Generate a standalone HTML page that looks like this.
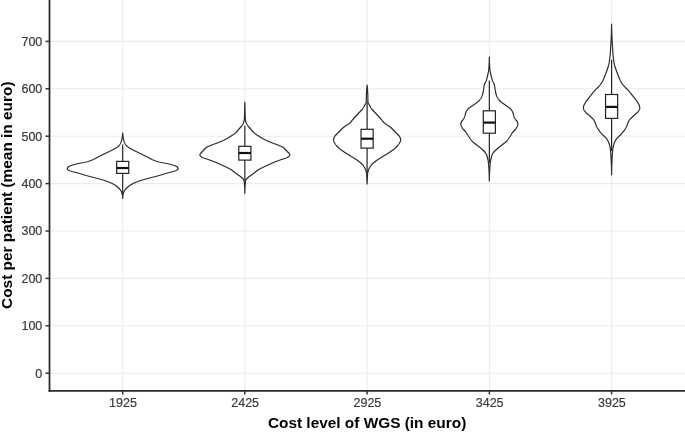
<!DOCTYPE html>
<html><head><meta charset="utf-8"><title>Cost per patient by cost level of WGS</title>
<style>
html,body{margin:0;padding:0;background:#fff;}
body{width:685px;height:432px;overflow:hidden;}
svg{display:block;font-family:"Liberation Sans",Arial,Helvetica,sans-serif;}
</style></head><body>
<svg width="685" height="432" viewBox="0 0 685 432">
<rect width="685" height="432" fill="#fff"/>
<line x1="49.5" x2="685" y1="373.20" y2="373.20" stroke="#ebebeb" stroke-width="1.1"/>
<line x1="49.5" x2="685" y1="325.80" y2="325.80" stroke="#ebebeb" stroke-width="1.1"/>
<line x1="49.5" x2="685" y1="278.40" y2="278.40" stroke="#ebebeb" stroke-width="1.1"/>
<line x1="49.5" x2="685" y1="231.00" y2="231.00" stroke="#ebebeb" stroke-width="1.1"/>
<line x1="49.5" x2="685" y1="183.60" y2="183.60" stroke="#ebebeb" stroke-width="1.1"/>
<line x1="49.5" x2="685" y1="136.20" y2="136.20" stroke="#ebebeb" stroke-width="1.1"/>
<line x1="49.5" x2="685" y1="88.80" y2="88.80" stroke="#ebebeb" stroke-width="1.1"/>
<line x1="49.5" x2="685" y1="41.40" y2="41.40" stroke="#ebebeb" stroke-width="1.1"/>
<line x1="122.7" x2="122.7" y1="0" y2="390.8" stroke="#ebebeb" stroke-width="1.1"/>
<line x1="244.85" x2="244.85" y1="0" y2="390.8" stroke="#ebebeb" stroke-width="1.1"/>
<line x1="367.1" x2="367.1" y1="0" y2="390.8" stroke="#ebebeb" stroke-width="1.1"/>
<line x1="489.35" x2="489.35" y1="0" y2="390.8" stroke="#ebebeb" stroke-width="1.1"/>
<line x1="611.6" x2="611.6" y1="0" y2="390.8" stroke="#ebebeb" stroke-width="1.1"/>
<path d="M122.70,133.00 L122.74,133.50 L122.78,134.00 L122.83,134.50 L122.88,135.00 L122.94,135.50 L123.00,136.00 L123.06,136.50 L123.13,137.00 L123.21,137.50 L123.30,138.00 L123.39,138.50 L123.49,139.00 L123.59,139.50 L123.71,140.00 L123.84,140.50 L123.97,141.00 L124.13,141.50 L124.30,142.00 L124.50,142.50 L124.72,143.00 L124.98,143.50 L125.27,144.00 L125.59,144.50 L125.95,145.00 L126.35,145.50 L126.79,146.00 L127.35,146.50 L128.02,147.00 L128.78,147.50 L129.60,148.00 L130.45,148.50 L131.30,149.00 L132.17,149.50 L133.11,150.00 L134.09,150.50 L135.10,151.00 L136.13,151.50 L137.17,152.00 L138.19,152.50 L139.20,153.00 L140.21,153.50 L141.22,154.00 L142.24,154.50 L143.26,155.00 L144.27,155.50 L145.29,156.00 L146.30,156.50 L147.28,157.00 L148.22,157.50 L149.15,158.00 L150.09,158.50 L151.07,159.00 L152.10,159.50 L153.22,160.00 L154.44,160.50 L155.74,161.00 L157.21,161.50 L158.92,162.00 L161.21,162.50 L164.12,163.00 L166.80,163.50 L169.01,164.00 L171.04,164.50 L172.80,165.00 L174.25,165.50 L175.57,166.00 L176.60,166.50 L177.20,167.00 L177.65,167.50 L177.98,168.00 L178.10,168.50 L177.94,169.00 L177.53,169.50 L177.00,170.00 L176.15,170.50 L174.94,171.00 L173.37,171.50 L171.49,172.00 L169.47,172.50 L167.52,173.00 L165.77,173.50 L164.12,174.00 L162.51,174.50 L160.90,175.00 L159.24,175.50 L157.50,176.00 L155.61,176.50 L153.61,177.00 L151.58,177.50 L149.60,178.00 L147.74,178.50 L145.95,179.00 L144.18,179.50 L142.48,180.00 L140.87,180.50 L139.36,181.00 L137.98,181.50 L136.66,182.00 L135.40,182.50 L134.23,183.00 L133.16,183.50 L132.20,184.00 L131.33,184.50 L130.52,185.00 L129.76,185.50 L129.06,186.00 L128.42,186.50 L127.82,187.00 L127.27,187.50 L126.74,188.00 L126.23,188.50 L125.75,189.00 L125.30,189.50 L124.91,190.00 L124.57,190.50 L124.30,191.00 L124.07,191.50 L123.86,192.00 L123.67,192.50 L123.51,193.00 L123.36,193.50 L123.23,194.00 L123.13,194.50 L123.05,195.00 L122.98,195.50 L122.91,196.00 L122.84,196.50 L122.79,197.00 L122.74,197.50 L122.71,198.00 L122.70,198.50 L122.70,198.60 L122.70,198.60 L122.70,198.50 L122.69,198.00 L122.66,197.50 L122.61,197.00 L122.56,196.50 L122.49,196.00 L122.42,195.50 L122.35,195.00 L122.27,194.50 L122.17,194.00 L122.04,193.50 L121.89,193.00 L121.73,192.50 L121.54,192.00 L121.33,191.50 L121.10,191.00 L120.83,190.50 L120.49,190.00 L120.10,189.50 L119.65,189.00 L119.17,188.50 L118.66,188.00 L118.13,187.50 L117.58,187.00 L116.98,186.50 L116.34,186.00 L115.64,185.50 L114.88,185.00 L114.07,184.50 L113.20,184.00 L112.24,183.50 L111.17,183.00 L110.00,182.50 L108.74,182.00 L107.42,181.50 L106.04,181.00 L104.53,180.50 L102.92,180.00 L101.22,179.50 L99.45,179.00 L97.66,178.50 L95.80,178.00 L93.82,177.50 L91.79,177.00 L89.79,176.50 L87.90,176.00 L86.16,175.50 L84.50,175.00 L82.89,174.50 L81.28,174.00 L79.63,173.50 L77.88,173.00 L75.93,172.50 L73.91,172.00 L72.03,171.50 L70.46,171.00 L69.25,170.50 L68.40,170.00 L67.87,169.50 L67.46,169.00 L67.30,168.50 L67.42,168.00 L67.75,167.50 L68.20,167.00 L68.80,166.50 L69.83,166.00 L71.15,165.50 L72.60,165.00 L74.36,164.50 L76.39,164.00 L78.60,163.50 L81.28,163.00 L84.19,162.50 L86.48,162.00 L88.19,161.50 L89.66,161.00 L90.96,160.50 L92.18,160.00 L93.30,159.50 L94.33,159.00 L95.31,158.50 L96.25,158.00 L97.18,157.50 L98.12,157.00 L99.10,156.50 L100.11,156.00 L101.13,155.50 L102.14,155.00 L103.16,154.50 L104.18,154.00 L105.19,153.50 L106.20,153.00 L107.21,152.50 L108.23,152.00 L109.27,151.50 L110.30,151.00 L111.31,150.50 L112.29,150.00 L113.23,149.50 L114.10,149.00 L114.95,148.50 L115.80,148.00 L116.62,147.50 L117.38,147.00 L118.05,146.50 L118.61,146.00 L119.05,145.50 L119.45,145.00 L119.81,144.50 L120.13,144.00 L120.42,143.50 L120.68,143.00 L120.90,142.50 L121.10,142.00 L121.27,141.50 L121.43,141.00 L121.56,140.50 L121.69,140.00 L121.81,139.50 L121.91,139.00 L122.01,138.50 L122.10,138.00 L122.19,137.50 L122.27,137.00 L122.34,136.50 L122.40,136.00 L122.46,135.50 L122.52,135.00 L122.57,134.50 L122.62,134.00 L122.66,133.50 L122.70,133.00Z" fill="#fff" stroke="#2b2b2b" stroke-width="1.2" stroke-linejoin="round"/>
<path d="M244.85,102.00 L244.86,102.50 L244.87,103.00 L244.88,103.50 L244.89,104.00 L244.90,104.50 L244.91,105.00 L244.93,105.50 L244.94,106.00 L244.95,106.50 L244.96,107.00 L244.98,107.50 L244.99,108.00 L245.00,108.50 L245.02,109.00 L245.03,109.50 L245.04,110.00 L245.06,110.50 L245.07,111.00 L245.09,111.50 L245.10,112.00 L245.11,112.50 L245.13,113.00 L245.14,113.50 L245.15,114.00 L245.16,114.50 L245.17,115.00 L245.19,115.50 L245.20,116.00 L245.22,116.50 L245.24,117.00 L245.25,117.50 L245.28,118.00 L245.30,118.50 L245.33,119.00 L245.37,119.50 L245.43,120.00 L245.52,120.50 L245.63,121.00 L245.77,121.50 L245.92,122.00 L246.08,122.50 L246.25,123.00 L246.45,123.50 L246.71,124.00 L247.00,124.50 L247.32,125.00 L247.65,125.50 L248.02,126.00 L248.43,126.50 L248.88,127.00 L249.34,127.50 L249.81,128.00 L250.27,128.50 L250.71,129.00 L251.13,129.50 L251.53,130.00 L251.94,130.50 L252.35,131.00 L252.78,131.50 L253.24,132.00 L253.73,132.50 L254.26,133.00 L254.86,133.50 L255.52,134.00 L256.24,134.50 L256.98,135.00 L257.76,135.50 L258.54,136.00 L259.32,136.50 L260.12,137.00 L260.93,137.50 L261.77,138.00 L262.64,138.50 L263.54,139.00 L264.47,139.50 L265.45,140.00 L266.49,140.50 L267.60,141.00 L268.77,141.50 L269.97,142.00 L271.20,142.50 L272.46,143.00 L273.80,143.50 L275.20,144.00 L276.61,144.50 L277.96,145.00 L279.22,145.50 L280.38,146.00 L281.50,146.50 L282.50,147.00 L283.29,147.50 L283.93,148.00 L284.50,148.50 L285.01,149.00 L285.48,149.50 L285.92,150.00 L286.35,150.50 L286.78,151.00 L287.23,151.50 L287.73,152.00 L288.25,152.50 L288.76,153.00 L289.21,153.50 L289.56,154.00 L289.79,154.50 L289.84,155.00 L289.66,155.50 L289.28,156.00 L288.74,156.50 L288.11,157.00 L287.35,157.50 L286.16,158.00 L284.66,158.50 L283.05,159.00 L281.53,159.50 L280.15,160.00 L278.75,160.50 L277.37,161.00 L276.02,161.50 L274.75,162.00 L273.54,162.50 L272.37,163.00 L271.24,163.50 L270.13,164.00 L269.04,164.50 L267.98,165.00 L266.92,165.50 L265.87,166.00 L264.82,166.50 L263.75,167.00 L262.68,167.50 L261.64,168.00 L260.64,168.50 L259.70,169.00 L258.85,169.50 L258.07,170.00 L257.35,170.50 L256.68,171.00 L256.03,171.50 L255.40,172.00 L254.78,172.50 L254.16,173.00 L253.51,173.50 L252.84,174.00 L252.14,174.50 L251.42,175.00 L250.70,175.50 L249.99,176.00 L249.31,176.50 L248.66,177.00 L248.07,177.50 L247.55,178.00 L247.03,178.50 L246.53,179.00 L246.10,179.50 L245.82,180.00 L245.68,180.50 L245.58,181.00 L245.50,181.50 L245.43,182.00 L245.37,182.50 L245.33,183.00 L245.29,183.50 L245.25,184.00 L245.22,184.50 L245.18,185.00 L245.15,185.50 L245.12,186.00 L245.09,186.50 L245.06,187.00 L245.03,187.50 L245.00,188.00 L244.98,188.50 L244.95,189.00 L244.93,189.50 L244.91,190.00 L244.90,190.50 L244.88,191.00 L244.87,191.50 L244.86,192.00 L244.85,192.50 L244.85,193.00 L244.85,193.30 L244.85,193.30 L244.85,193.00 L244.85,192.50 L244.84,192.00 L244.83,191.50 L244.82,191.00 L244.80,190.50 L244.79,190.00 L244.77,189.50 L244.75,189.00 L244.72,188.50 L244.70,188.00 L244.67,187.50 L244.64,187.00 L244.61,186.50 L244.58,186.00 L244.55,185.50 L244.52,185.00 L244.48,184.50 L244.45,184.00 L244.41,183.50 L244.37,183.00 L244.33,182.50 L244.27,182.00 L244.20,181.50 L244.12,181.00 L244.02,180.50 L243.88,180.00 L243.60,179.50 L243.17,179.00 L242.67,178.50 L242.15,178.00 L241.63,177.50 L241.04,177.00 L240.39,176.50 L239.71,176.00 L239.00,175.50 L238.28,175.00 L237.56,174.50 L236.86,174.00 L236.19,173.50 L235.54,173.00 L234.92,172.50 L234.30,172.00 L233.67,171.50 L233.02,171.00 L232.35,170.50 L231.63,170.00 L230.85,169.50 L230.00,169.00 L229.06,168.50 L228.06,168.00 L227.02,167.50 L225.95,167.00 L224.88,166.50 L223.83,166.00 L222.78,165.50 L221.72,165.00 L220.66,164.50 L219.57,164.00 L218.46,163.50 L217.33,163.00 L216.16,162.50 L214.95,162.00 L213.68,161.50 L212.33,161.00 L210.95,160.50 L209.55,160.00 L208.17,159.50 L206.65,159.00 L205.04,158.50 L203.54,158.00 L202.35,157.50 L201.59,157.00 L200.96,156.50 L200.42,156.00 L200.04,155.50 L199.86,155.00 L199.91,154.50 L200.14,154.00 L200.49,153.50 L200.94,153.00 L201.45,152.50 L201.97,152.00 L202.47,151.50 L202.92,151.00 L203.35,150.50 L203.78,150.00 L204.22,149.50 L204.69,149.00 L205.20,148.50 L205.77,148.00 L206.41,147.50 L207.20,147.00 L208.20,146.50 L209.32,146.00 L210.48,145.50 L211.74,145.00 L213.09,144.50 L214.50,144.00 L215.90,143.50 L217.24,143.00 L218.50,142.50 L219.73,142.00 L220.93,141.50 L222.10,141.00 L223.21,140.50 L224.25,140.00 L225.23,139.50 L226.16,139.00 L227.06,138.50 L227.93,138.00 L228.77,137.50 L229.58,137.00 L230.38,136.50 L231.16,136.00 L231.94,135.50 L232.72,135.00 L233.46,134.50 L234.18,134.00 L234.84,133.50 L235.44,133.00 L235.97,132.50 L236.46,132.00 L236.92,131.50 L237.35,131.00 L237.76,130.50 L238.17,130.00 L238.57,129.50 L238.99,129.00 L239.43,128.50 L239.89,128.00 L240.36,127.50 L240.82,127.00 L241.27,126.50 L241.68,126.00 L242.05,125.50 L242.38,125.00 L242.70,124.50 L242.99,124.00 L243.25,123.50 L243.45,123.00 L243.62,122.50 L243.78,122.00 L243.93,121.50 L244.07,121.00 L244.18,120.50 L244.27,120.00 L244.33,119.50 L244.37,119.00 L244.40,118.50 L244.42,118.00 L244.45,117.50 L244.46,117.00 L244.48,116.50 L244.50,116.00 L244.51,115.50 L244.53,115.00 L244.54,114.50 L244.55,114.00 L244.56,113.50 L244.57,113.00 L244.59,112.50 L244.60,112.00 L244.61,111.50 L244.63,111.00 L244.64,110.50 L244.66,110.00 L244.67,109.50 L244.68,109.00 L244.70,108.50 L244.71,108.00 L244.72,107.50 L244.74,107.00 L244.75,106.50 L244.76,106.00 L244.77,105.50 L244.79,105.00 L244.80,104.50 L244.81,104.00 L244.82,103.50 L244.83,103.00 L244.84,102.50 L244.85,102.00Z" fill="#fff" stroke="#2b2b2b" stroke-width="1.2" stroke-linejoin="round"/>
<path d="M367.10,85.00 L367.15,85.50 L367.21,86.00 L367.26,86.50 L367.31,87.00 L367.35,87.50 L367.40,88.00 L367.44,88.50 L367.48,89.00 L367.52,89.50 L367.55,90.00 L367.58,90.50 L367.61,91.00 L367.64,91.50 L367.67,92.00 L367.70,92.50 L367.72,93.00 L367.74,93.50 L367.76,94.00 L367.78,94.50 L367.80,95.00 L367.81,95.50 L367.83,96.00 L367.84,96.50 L367.84,97.00 L367.85,97.50 L367.86,98.00 L367.86,98.50 L367.87,99.00 L367.88,99.50 L367.89,100.00 L367.90,100.50 L367.92,101.00 L367.94,101.50 L367.97,102.00 L368.08,102.50 L368.27,103.00 L368.52,103.50 L368.80,104.00 L369.08,104.50 L369.35,105.00 L369.60,105.50 L369.85,106.00 L370.11,106.50 L370.38,107.00 L370.66,107.50 L370.97,108.00 L371.30,108.50 L371.66,109.00 L372.07,109.50 L372.51,110.00 L372.97,110.50 L373.45,111.00 L373.94,111.50 L374.44,112.00 L374.94,112.50 L375.43,113.00 L375.91,113.50 L376.37,114.00 L376.83,114.50 L377.30,115.00 L377.77,115.50 L378.23,116.00 L378.70,116.50 L379.16,117.00 L379.62,117.50 L380.07,118.00 L380.52,118.50 L380.96,119.00 L381.38,119.50 L381.78,120.00 L382.18,120.50 L382.58,121.00 L382.99,121.50 L383.42,122.00 L383.89,122.50 L384.40,123.00 L384.98,123.50 L385.64,124.00 L386.36,124.50 L387.12,125.00 L387.90,125.50 L388.68,126.00 L389.43,126.50 L390.14,127.00 L390.78,127.50 L391.36,128.00 L391.91,128.50 L392.44,129.00 L392.94,129.50 L393.43,130.00 L393.91,130.50 L394.38,131.00 L394.85,131.50 L395.32,132.00 L395.79,132.50 L396.29,133.00 L396.81,133.50 L397.33,134.00 L397.84,134.50 L398.33,135.00 L398.78,135.50 L399.19,136.00 L399.53,136.50 L399.80,137.00 L400.03,137.50 L400.25,138.00 L400.45,138.50 L400.60,139.00 L400.68,139.50 L400.69,140.00 L400.61,140.50 L400.46,141.00 L400.26,141.50 L400.01,142.00 L399.74,142.50 L399.46,143.00 L399.19,143.50 L398.89,144.00 L398.55,144.50 L398.17,145.00 L397.77,145.50 L397.33,146.00 L396.88,146.50 L396.40,147.00 L395.90,147.50 L395.39,148.00 L394.83,148.50 L394.22,149.00 L393.57,149.50 L392.89,150.00 L392.18,150.50 L391.46,151.00 L390.73,151.50 L390.00,152.00 L389.26,152.50 L388.49,153.00 L387.70,153.50 L386.89,154.00 L386.07,154.50 L385.25,155.00 L384.43,155.50 L383.62,156.00 L382.82,156.50 L382.02,157.00 L381.22,157.50 L380.40,158.00 L379.59,158.50 L378.79,159.00 L378.00,159.50 L377.25,160.00 L376.54,160.50 L375.87,161.00 L375.23,161.50 L374.59,162.00 L373.98,162.50 L373.39,163.00 L372.82,163.50 L372.30,164.00 L371.82,164.50 L371.38,165.00 L370.99,165.50 L370.62,166.00 L370.27,166.50 L369.95,167.00 L369.65,167.50 L369.38,168.00 L369.13,168.50 L368.91,169.00 L368.70,169.50 L368.49,170.00 L368.30,170.50 L368.12,171.00 L367.97,171.50 L367.85,172.00 L367.76,172.50 L367.71,173.00 L367.66,173.50 L367.62,174.00 L367.59,174.50 L367.55,175.00 L367.53,175.50 L367.50,176.00 L367.48,176.50 L367.45,177.00 L367.43,177.50 L367.40,178.00 L367.37,178.50 L367.34,179.00 L367.32,179.50 L367.29,180.00 L367.26,180.50 L367.24,181.00 L367.21,181.50 L367.19,182.00 L367.17,182.50 L367.14,183.00 L367.12,183.50 L367.10,184.00 L367.10,184.00 L367.08,183.50 L367.06,183.00 L367.03,182.50 L367.01,182.00 L366.99,181.50 L366.96,181.00 L366.94,180.50 L366.91,180.00 L366.88,179.50 L366.86,179.00 L366.83,178.50 L366.80,178.00 L366.77,177.50 L366.75,177.00 L366.72,176.50 L366.70,176.00 L366.67,175.50 L366.65,175.00 L366.61,174.50 L366.58,174.00 L366.54,173.50 L366.49,173.00 L366.44,172.50 L366.35,172.00 L366.23,171.50 L366.08,171.00 L365.90,170.50 L365.71,170.00 L365.50,169.50 L365.29,169.00 L365.07,168.50 L364.82,168.00 L364.55,167.50 L364.25,167.00 L363.93,166.50 L363.58,166.00 L363.21,165.50 L362.82,165.00 L362.38,164.50 L361.90,164.00 L361.38,163.50 L360.81,163.00 L360.22,162.50 L359.61,162.00 L358.97,161.50 L358.33,161.00 L357.66,160.50 L356.95,160.00 L356.20,159.50 L355.41,159.00 L354.61,158.50 L353.80,158.00 L352.98,157.50 L352.18,157.00 L351.38,156.50 L350.58,156.00 L349.77,155.50 L348.95,155.00 L348.13,154.50 L347.31,154.00 L346.50,153.50 L345.71,153.00 L344.94,152.50 L344.20,152.00 L343.47,151.50 L342.74,151.00 L342.02,150.50 L341.31,150.00 L340.63,149.50 L339.98,149.00 L339.37,148.50 L338.81,148.00 L338.30,147.50 L337.80,147.00 L337.32,146.50 L336.87,146.00 L336.43,145.50 L336.03,145.00 L335.65,144.50 L335.31,144.00 L335.01,143.50 L334.74,143.00 L334.46,142.50 L334.19,142.00 L333.94,141.50 L333.74,141.00 L333.59,140.50 L333.51,140.00 L333.52,139.50 L333.60,139.00 L333.75,138.50 L333.95,138.00 L334.17,137.50 L334.40,137.00 L334.67,136.50 L335.01,136.00 L335.42,135.50 L335.87,135.00 L336.36,134.50 L336.87,134.00 L337.39,133.50 L337.91,133.00 L338.41,132.50 L338.88,132.00 L339.35,131.50 L339.82,131.00 L340.29,130.50 L340.77,130.00 L341.26,129.50 L341.76,129.00 L342.29,128.50 L342.84,128.00 L343.42,127.50 L344.06,127.00 L344.77,126.50 L345.52,126.00 L346.30,125.50 L347.08,125.00 L347.84,124.50 L348.56,124.00 L349.22,123.50 L349.80,123.00 L350.31,122.50 L350.78,122.00 L351.21,121.50 L351.62,121.00 L352.02,120.50 L352.42,120.00 L352.82,119.50 L353.24,119.00 L353.68,118.50 L354.13,118.00 L354.58,117.50 L355.04,117.00 L355.50,116.50 L355.97,116.00 L356.43,115.50 L356.90,115.00 L357.37,114.50 L357.83,114.00 L358.29,113.50 L358.77,113.00 L359.26,112.50 L359.76,112.00 L360.26,111.50 L360.75,111.00 L361.23,110.50 L361.69,110.00 L362.13,109.50 L362.54,109.00 L362.90,108.50 L363.23,108.00 L363.54,107.50 L363.82,107.00 L364.09,106.50 L364.35,106.00 L364.60,105.50 L364.85,105.00 L365.12,104.50 L365.40,104.00 L365.68,103.50 L365.93,103.00 L366.12,102.50 L366.23,102.00 L366.26,101.50 L366.28,101.00 L366.30,100.50 L366.31,100.00 L366.32,99.50 L366.33,99.00 L366.34,98.50 L366.34,98.00 L366.35,97.50 L366.36,97.00 L366.36,96.50 L366.37,96.00 L366.39,95.50 L366.40,95.00 L366.42,94.50 L366.44,94.00 L366.46,93.50 L366.48,93.00 L366.50,92.50 L366.53,92.00 L366.56,91.50 L366.59,91.00 L366.62,90.50 L366.65,90.00 L366.68,89.50 L366.72,89.00 L366.76,88.50 L366.80,88.00 L366.85,87.50 L366.89,87.00 L366.94,86.50 L366.99,86.00 L367.05,85.50 L367.10,85.00Z" fill="#fff" stroke="#2b2b2b" stroke-width="1.2" stroke-linejoin="round"/>
<path d="M489.35,57.00 L489.35,57.50 L489.35,58.00 L489.36,58.50 L489.37,59.00 L489.38,59.50 L489.39,60.00 L489.40,60.50 L489.42,61.00 L489.44,61.50 L489.46,62.00 L489.48,62.50 L489.50,63.00 L489.53,63.50 L489.55,64.00 L489.58,64.50 L489.61,65.00 L489.64,65.50 L489.67,66.00 L489.70,66.50 L489.73,67.00 L489.77,67.50 L489.80,68.00 L489.84,68.50 L489.87,69.00 L489.92,69.50 L489.98,70.00 L490.05,70.50 L490.12,71.00 L490.21,71.50 L490.30,72.00 L490.39,72.50 L490.50,73.00 L490.60,73.50 L490.72,74.00 L490.83,74.50 L490.95,75.00 L491.07,75.50 L491.19,76.00 L491.31,76.50 L491.43,77.00 L491.55,77.50 L491.68,78.00 L491.81,78.50 L491.96,79.00 L492.11,79.50 L492.28,80.00 L492.45,80.50 L492.65,81.00 L492.88,81.50 L493.14,82.00 L493.41,82.50 L493.67,83.00 L493.91,83.50 L494.13,84.00 L494.30,84.50 L494.42,85.00 L494.52,85.50 L494.61,86.00 L494.69,86.50 L494.77,87.00 L494.83,87.50 L494.90,88.00 L494.96,88.50 L495.03,89.00 L495.11,89.50 L495.19,90.00 L495.29,90.50 L495.39,91.00 L495.49,91.50 L495.59,92.00 L495.70,92.50 L495.81,93.00 L495.93,93.50 L496.06,94.00 L496.20,94.50 L496.35,95.00 L496.51,95.50 L496.69,96.00 L496.89,96.50 L497.13,97.00 L497.39,97.50 L497.68,98.00 L498.00,98.50 L498.35,99.00 L498.72,99.50 L499.11,100.00 L499.52,100.50 L499.95,101.00 L500.44,101.50 L501.02,102.00 L501.67,102.50 L502.37,103.00 L503.10,103.50 L503.84,104.00 L504.57,104.50 L505.28,105.00 L505.96,105.50 L506.69,106.00 L507.44,106.50 L508.19,107.00 L508.91,107.50 L509.58,108.00 L510.16,108.50 L510.65,109.00 L511.06,109.50 L511.44,110.00 L511.79,110.50 L512.11,111.00 L512.40,111.50 L512.65,112.00 L512.87,112.50 L513.06,113.00 L513.21,113.50 L513.33,114.00 L513.45,114.50 L513.56,115.00 L513.68,115.50 L513.82,116.00 L513.99,116.50 L514.18,117.00 L514.41,117.50 L514.66,118.00 L514.93,118.50 L515.22,119.00 L515.52,119.50 L515.87,120.00 L516.33,120.50 L516.80,121.00 L517.16,121.50 L517.35,122.00 L517.51,122.50 L517.65,123.00 L517.76,123.50 L517.83,124.00 L517.85,124.50 L517.80,125.00 L517.68,125.50 L517.48,126.00 L517.24,126.50 L516.96,127.00 L516.67,127.50 L516.37,128.00 L516.06,128.50 L515.69,129.00 L515.25,129.50 L514.78,130.00 L514.30,130.50 L513.81,131.00 L513.36,131.50 L512.95,132.00 L512.58,132.50 L512.23,133.00 L511.90,133.50 L511.57,134.00 L511.26,134.50 L510.94,135.00 L510.61,135.50 L510.29,136.00 L509.95,136.50 L509.62,137.00 L509.31,137.50 L508.99,138.00 L508.67,138.50 L508.33,139.00 L507.98,139.50 L507.61,140.00 L507.21,140.50 L506.77,141.00 L506.26,141.50 L505.70,142.00 L505.10,142.50 L504.47,143.00 L503.83,143.50 L503.19,144.00 L502.57,144.50 L501.96,145.00 L501.33,145.50 L500.68,146.00 L500.03,146.50 L499.38,147.00 L498.75,147.50 L498.13,148.00 L497.53,148.50 L496.97,149.00 L496.44,149.50 L495.92,150.00 L495.39,150.50 L494.87,151.00 L494.38,151.50 L493.91,152.00 L493.48,152.50 L493.09,153.00 L492.76,153.50 L492.50,154.00 L492.28,154.50 L492.08,155.00 L491.89,155.50 L491.72,156.00 L491.56,156.50 L491.42,157.00 L491.29,157.50 L491.17,158.00 L491.05,158.50 L490.94,159.00 L490.83,159.50 L490.73,160.00 L490.64,160.50 L490.55,161.00 L490.47,161.50 L490.39,162.00 L490.32,162.50 L490.26,163.00 L490.21,163.50 L490.15,164.00 L490.10,164.50 L490.05,165.00 L490.01,165.50 L489.96,166.00 L489.92,166.50 L489.88,167.00 L489.85,167.50 L489.81,168.00 L489.78,168.50 L489.75,169.00 L489.72,169.50 L489.70,170.00 L489.68,170.50 L489.65,171.00 L489.63,171.50 L489.61,172.00 L489.58,172.50 L489.56,173.00 L489.54,173.50 L489.52,174.00 L489.50,174.50 L489.48,175.00 L489.46,175.50 L489.45,176.00 L489.43,176.50 L489.42,177.00 L489.40,177.50 L489.39,178.00 L489.38,178.50 L489.37,179.00 L489.36,179.50 L489.36,180.00 L489.35,180.50 L489.35,181.00 L489.35,181.00 L489.35,180.50 L489.34,180.00 L489.34,179.50 L489.33,179.00 L489.32,178.50 L489.31,178.00 L489.30,177.50 L489.28,177.00 L489.27,176.50 L489.25,176.00 L489.24,175.50 L489.22,175.00 L489.20,174.50 L489.18,174.00 L489.16,173.50 L489.14,173.00 L489.12,172.50 L489.09,172.00 L489.07,171.50 L489.05,171.00 L489.02,170.50 L489.00,170.00 L488.98,169.50 L488.95,169.00 L488.92,168.50 L488.89,168.00 L488.85,167.50 L488.82,167.00 L488.78,166.50 L488.74,166.00 L488.69,165.50 L488.65,165.00 L488.60,164.50 L488.55,164.00 L488.49,163.50 L488.44,163.00 L488.38,162.50 L488.31,162.00 L488.23,161.50 L488.15,161.00 L488.06,160.50 L487.97,160.00 L487.87,159.50 L487.76,159.00 L487.65,158.50 L487.53,158.00 L487.41,157.50 L487.28,157.00 L487.14,156.50 L486.98,156.00 L486.81,155.50 L486.62,155.00 L486.42,154.50 L486.20,154.00 L485.94,153.50 L485.61,153.00 L485.22,152.50 L484.79,152.00 L484.32,151.50 L483.83,151.00 L483.31,150.50 L482.78,150.00 L482.26,149.50 L481.73,149.00 L481.17,148.50 L480.57,148.00 L479.95,147.50 L479.32,147.00 L478.67,146.50 L478.02,146.00 L477.37,145.50 L476.74,145.00 L476.13,144.50 L475.51,144.00 L474.87,143.50 L474.23,143.00 L473.60,142.50 L473.00,142.00 L472.44,141.50 L471.93,141.00 L471.49,140.50 L471.09,140.00 L470.72,139.50 L470.37,139.00 L470.03,138.50 L469.71,138.00 L469.39,137.50 L469.08,137.00 L468.75,136.50 L468.41,136.00 L468.09,135.50 L467.76,135.00 L467.44,134.50 L467.13,134.00 L466.80,133.50 L466.47,133.00 L466.12,132.50 L465.75,132.00 L465.34,131.50 L464.89,131.00 L464.40,130.50 L463.92,130.00 L463.45,129.50 L463.01,129.00 L462.64,128.50 L462.33,128.00 L462.03,127.50 L461.74,127.00 L461.46,126.50 L461.22,126.00 L461.02,125.50 L460.90,125.00 L460.85,124.50 L460.87,124.00 L460.94,123.50 L461.05,123.00 L461.19,122.50 L461.35,122.00 L461.54,121.50 L461.90,121.00 L462.37,120.50 L462.83,120.00 L463.18,119.50 L463.48,119.00 L463.77,118.50 L464.04,118.00 L464.29,117.50 L464.52,117.00 L464.71,116.50 L464.88,116.00 L465.02,115.50 L465.14,115.00 L465.25,114.50 L465.37,114.00 L465.49,113.50 L465.64,113.00 L465.83,112.50 L466.05,112.00 L466.30,111.50 L466.59,111.00 L466.91,110.50 L467.26,110.00 L467.64,109.50 L468.05,109.00 L468.54,108.50 L469.12,108.00 L469.79,107.50 L470.51,107.00 L471.26,106.50 L472.01,106.00 L472.74,105.50 L473.42,105.00 L474.13,104.50 L474.86,104.00 L475.60,103.50 L476.33,103.00 L477.03,102.50 L477.68,102.00 L478.26,101.50 L478.75,101.00 L479.18,100.50 L479.59,100.00 L479.98,99.50 L480.35,99.00 L480.70,98.50 L481.02,98.00 L481.31,97.50 L481.57,97.00 L481.81,96.50 L482.01,96.00 L482.19,95.50 L482.35,95.00 L482.50,94.50 L482.64,94.00 L482.77,93.50 L482.89,93.00 L483.00,92.50 L483.11,92.00 L483.21,91.50 L483.31,91.00 L483.41,90.50 L483.51,90.00 L483.59,89.50 L483.67,89.00 L483.74,88.50 L483.80,88.00 L483.87,87.50 L483.93,87.00 L484.01,86.50 L484.09,86.00 L484.18,85.50 L484.28,85.00 L484.40,84.50 L484.57,84.00 L484.79,83.50 L485.03,83.00 L485.29,82.50 L485.56,82.00 L485.82,81.50 L486.05,81.00 L486.25,80.50 L486.42,80.00 L486.59,79.50 L486.74,79.00 L486.89,78.50 L487.02,78.00 L487.15,77.50 L487.27,77.00 L487.39,76.50 L487.51,76.00 L487.63,75.50 L487.75,75.00 L487.87,74.50 L487.98,74.00 L488.10,73.50 L488.20,73.00 L488.31,72.50 L488.40,72.00 L488.49,71.50 L488.58,71.00 L488.65,70.50 L488.72,70.00 L488.78,69.50 L488.83,69.00 L488.86,68.50 L488.90,68.00 L488.93,67.50 L488.97,67.00 L489.00,66.50 L489.03,66.00 L489.06,65.50 L489.09,65.00 L489.12,64.50 L489.15,64.00 L489.17,63.50 L489.20,63.00 L489.22,62.50 L489.24,62.00 L489.26,61.50 L489.28,61.00 L489.30,60.50 L489.31,60.00 L489.32,59.50 L489.33,59.00 L489.34,58.50 L489.35,58.00 L489.35,57.50 L489.35,57.00Z" fill="#fff" stroke="#2b2b2b" stroke-width="1.2" stroke-linejoin="round"/>
<path d="M611.60,24.20 L611.61,24.70 L611.61,25.20 L611.62,25.70 L611.63,26.20 L611.64,26.70 L611.65,27.20 L611.66,27.70 L611.67,28.20 L611.68,28.70 L611.70,29.20 L611.71,29.70 L611.73,30.20 L611.74,30.70 L611.76,31.20 L611.77,31.70 L611.79,32.20 L611.81,32.70 L611.82,33.20 L611.84,33.70 L611.86,34.20 L611.88,34.70 L611.90,35.20 L611.92,35.70 L611.94,36.20 L611.96,36.70 L611.98,37.20 L612.00,37.70 L612.02,38.20 L612.04,38.70 L612.07,39.20 L612.09,39.70 L612.11,40.20 L612.13,40.70 L612.16,41.20 L612.19,41.70 L612.22,42.20 L612.25,42.70 L612.28,43.20 L612.32,43.70 L612.35,44.20 L612.39,44.70 L612.42,45.20 L612.46,45.70 L612.49,46.20 L612.52,46.70 L612.55,47.20 L612.58,47.70 L612.61,48.20 L612.64,48.70 L612.66,49.20 L612.68,49.70 L612.71,50.20 L612.73,50.70 L612.76,51.20 L612.79,51.70 L612.82,52.20 L612.85,52.70 L612.89,53.20 L612.93,53.70 L612.97,54.20 L613.02,54.70 L613.06,55.20 L613.11,55.70 L613.16,56.20 L613.21,56.70 L613.27,57.20 L613.32,57.70 L613.38,58.20 L613.44,58.70 L613.50,59.20 L613.56,59.70 L613.63,60.20 L613.70,60.70 L613.78,61.20 L613.85,61.70 L613.94,62.20 L614.03,62.70 L614.12,63.20 L614.22,63.70 L614.34,64.20 L614.46,64.70 L614.60,65.20 L614.74,65.70 L614.89,66.20 L615.05,66.70 L615.21,67.20 L615.37,67.70 L615.53,68.20 L615.70,68.70 L615.87,69.20 L616.03,69.70 L616.20,70.20 L616.38,70.70 L616.55,71.20 L616.74,71.70 L616.92,72.20 L617.11,72.70 L617.31,73.20 L617.50,73.70 L617.70,74.20 L617.90,74.70 L618.10,75.20 L618.30,75.70 L618.50,76.20 L618.70,76.70 L618.89,77.20 L619.09,77.70 L619.29,78.20 L619.49,78.70 L619.71,79.20 L619.92,79.70 L620.15,80.20 L620.39,80.70 L620.65,81.20 L620.92,81.70 L621.20,82.20 L621.51,82.70 L621.83,83.20 L622.16,83.70 L622.52,84.20 L622.88,84.70 L623.26,85.20 L623.66,85.70 L624.10,86.20 L624.58,86.70 L625.08,87.20 L625.60,87.70 L626.12,88.20 L626.64,88.70 L627.14,89.20 L627.61,89.70 L628.05,90.20 L628.49,90.70 L628.92,91.20 L629.33,91.70 L629.74,92.20 L630.15,92.70 L630.55,93.20 L630.95,93.70 L631.35,94.20 L631.74,94.70 L632.14,95.20 L632.54,95.70 L632.94,96.20 L633.35,96.70 L633.75,97.20 L634.16,97.70 L634.56,98.20 L634.96,98.70 L635.35,99.20 L635.73,99.70 L636.10,100.20 L636.46,100.70 L636.80,101.20 L637.13,101.70 L637.47,102.20 L637.81,102.70 L638.15,103.20 L638.47,103.70 L638.77,104.20 L639.03,104.70 L639.24,105.20 L639.40,105.70 L639.53,106.20 L639.64,106.70 L639.73,107.20 L639.79,107.70 L639.79,108.20 L639.71,108.70 L639.55,109.20 L639.32,109.70 L639.06,110.20 L638.76,110.70 L638.46,111.20 L638.12,111.70 L637.66,112.20 L637.13,112.70 L636.53,113.20 L635.91,113.70 L635.30,114.20 L634.72,114.70 L634.19,115.20 L633.67,115.70 L633.13,116.20 L632.59,116.70 L632.05,117.20 L631.52,117.70 L631.01,118.20 L630.53,118.70 L630.07,119.20 L629.66,119.70 L629.29,120.20 L628.98,120.70 L628.70,121.20 L628.45,121.70 L628.21,122.20 L628.00,122.70 L627.80,123.20 L627.61,123.70 L627.42,124.20 L627.24,124.70 L627.06,125.20 L626.86,125.70 L626.66,126.20 L626.45,126.70 L626.21,127.20 L625.95,127.70 L625.67,128.20 L625.38,128.70 L625.06,129.20 L624.73,129.70 L624.38,130.20 L624.02,130.70 L623.65,131.20 L623.26,131.70 L622.87,132.20 L622.46,132.70 L622.05,133.20 L621.63,133.70 L621.16,134.20 L620.65,134.70 L620.11,135.20 L619.55,135.70 L619.00,136.20 L618.46,136.70 L617.94,137.20 L617.47,137.70 L617.05,138.20 L616.69,138.70 L616.34,139.20 L616.00,139.70 L615.68,140.20 L615.37,140.70 L615.09,141.20 L614.83,141.70 L614.59,142.20 L614.38,142.70 L614.20,143.20 L614.04,143.70 L613.89,144.20 L613.75,144.70 L613.61,145.20 L613.49,145.70 L613.37,146.20 L613.26,146.70 L613.17,147.20 L613.08,147.70 L613.00,148.20 L612.93,148.70 L612.86,149.20 L612.80,149.70 L612.74,150.20 L612.69,150.70 L612.64,151.20 L612.59,151.70 L612.54,152.20 L612.49,152.70 L612.45,153.20 L612.41,153.70 L612.37,154.20 L612.33,154.70 L612.30,155.20 L612.26,155.70 L612.23,156.20 L612.20,156.70 L612.17,157.20 L612.14,157.70 L612.12,158.20 L612.10,158.70 L612.07,159.20 L612.05,159.70 L612.03,160.20 L612.00,160.70 L611.98,161.20 L611.96,161.70 L611.94,162.20 L611.91,162.70 L611.89,163.20 L611.87,163.70 L611.85,164.20 L611.83,164.70 L611.81,165.20 L611.79,165.70 L611.77,166.20 L611.76,166.70 L611.74,167.20 L611.72,167.70 L611.71,168.20 L611.69,168.70 L611.68,169.20 L611.67,169.70 L611.65,170.20 L611.64,170.70 L611.63,171.20 L611.63,171.70 L611.62,172.20 L611.61,172.70 L611.61,173.20 L611.60,173.70 L611.60,174.20 L611.60,174.70 L611.60,174.80 L611.60,174.80 L611.60,174.70 L611.60,174.20 L611.60,173.70 L611.59,173.20 L611.59,172.70 L611.58,172.20 L611.57,171.70 L611.57,171.20 L611.56,170.70 L611.55,170.20 L611.53,169.70 L611.52,169.20 L611.51,168.70 L611.49,168.20 L611.48,167.70 L611.46,167.20 L611.44,166.70 L611.43,166.20 L611.41,165.70 L611.39,165.20 L611.37,164.70 L611.35,164.20 L611.33,163.70 L611.31,163.20 L611.29,162.70 L611.26,162.20 L611.24,161.70 L611.22,161.20 L611.20,160.70 L611.17,160.20 L611.15,159.70 L611.13,159.20 L611.10,158.70 L611.08,158.20 L611.06,157.70 L611.03,157.20 L611.00,156.70 L610.97,156.20 L610.94,155.70 L610.90,155.20 L610.87,154.70 L610.83,154.20 L610.79,153.70 L610.75,153.20 L610.71,152.70 L610.66,152.20 L610.61,151.70 L610.56,151.20 L610.51,150.70 L610.46,150.20 L610.40,149.70 L610.34,149.20 L610.27,148.70 L610.20,148.20 L610.12,147.70 L610.03,147.20 L609.94,146.70 L609.83,146.20 L609.71,145.70 L609.59,145.20 L609.45,144.70 L609.31,144.20 L609.16,143.70 L609.00,143.20 L608.82,142.70 L608.61,142.20 L608.37,141.70 L608.11,141.20 L607.83,140.70 L607.52,140.20 L607.20,139.70 L606.86,139.20 L606.51,138.70 L606.15,138.20 L605.73,137.70 L605.26,137.20 L604.74,136.70 L604.20,136.20 L603.65,135.70 L603.09,135.20 L602.55,134.70 L602.04,134.20 L601.57,133.70 L601.15,133.20 L600.74,132.70 L600.33,132.20 L599.94,131.70 L599.55,131.20 L599.18,130.70 L598.82,130.20 L598.47,129.70 L598.14,129.20 L597.82,128.70 L597.53,128.20 L597.25,127.70 L596.99,127.20 L596.75,126.70 L596.54,126.20 L596.34,125.70 L596.14,125.20 L595.96,124.70 L595.78,124.20 L595.59,123.70 L595.40,123.20 L595.20,122.70 L594.99,122.20 L594.75,121.70 L594.50,121.20 L594.22,120.70 L593.91,120.20 L593.54,119.70 L593.13,119.20 L592.67,118.70 L592.19,118.20 L591.68,117.70 L591.15,117.20 L590.61,116.70 L590.07,116.20 L589.53,115.70 L589.01,115.20 L588.48,114.70 L587.90,114.20 L587.29,113.70 L586.67,113.20 L586.07,112.70 L585.54,112.20 L585.08,111.70 L584.74,111.20 L584.44,110.70 L584.14,110.20 L583.88,109.70 L583.65,109.20 L583.49,108.70 L583.41,108.20 L583.41,107.70 L583.47,107.20 L583.56,106.70 L583.67,106.20 L583.80,105.70 L583.96,105.20 L584.17,104.70 L584.43,104.20 L584.73,103.70 L585.05,103.20 L585.39,102.70 L585.73,102.20 L586.07,101.70 L586.40,101.20 L586.74,100.70 L587.10,100.20 L587.47,99.70 L587.85,99.20 L588.24,98.70 L588.64,98.20 L589.04,97.70 L589.45,97.20 L589.85,96.70 L590.26,96.20 L590.66,95.70 L591.06,95.20 L591.46,94.70 L591.85,94.20 L592.25,93.70 L592.65,93.20 L593.05,92.70 L593.46,92.20 L593.87,91.70 L594.28,91.20 L594.71,90.70 L595.15,90.20 L595.59,89.70 L596.06,89.20 L596.56,88.70 L597.08,88.20 L597.60,87.70 L598.12,87.20 L598.62,86.70 L599.10,86.20 L599.54,85.70 L599.94,85.20 L600.32,84.70 L600.68,84.20 L601.04,83.70 L601.37,83.20 L601.69,82.70 L602.00,82.20 L602.28,81.70 L602.55,81.20 L602.81,80.70 L603.05,80.20 L603.28,79.70 L603.49,79.20 L603.71,78.70 L603.91,78.20 L604.11,77.70 L604.31,77.20 L604.50,76.70 L604.70,76.20 L604.90,75.70 L605.10,75.20 L605.30,74.70 L605.50,74.20 L605.70,73.70 L605.89,73.20 L606.09,72.70 L606.28,72.20 L606.46,71.70 L606.65,71.20 L606.82,70.70 L607.00,70.20 L607.17,69.70 L607.33,69.20 L607.50,68.70 L607.67,68.20 L607.83,67.70 L607.99,67.20 L608.15,66.70 L608.31,66.20 L608.46,65.70 L608.60,65.20 L608.74,64.70 L608.86,64.20 L608.98,63.70 L609.08,63.20 L609.17,62.70 L609.26,62.20 L609.35,61.70 L609.42,61.20 L609.50,60.70 L609.57,60.20 L609.64,59.70 L609.70,59.20 L609.76,58.70 L609.82,58.20 L609.88,57.70 L609.93,57.20 L609.99,56.70 L610.04,56.20 L610.09,55.70 L610.14,55.20 L610.18,54.70 L610.23,54.20 L610.27,53.70 L610.31,53.20 L610.35,52.70 L610.38,52.20 L610.41,51.70 L610.44,51.20 L610.47,50.70 L610.49,50.20 L610.52,49.70 L610.54,49.20 L610.56,48.70 L610.59,48.20 L610.62,47.70 L610.65,47.20 L610.68,46.70 L610.71,46.20 L610.74,45.70 L610.78,45.20 L610.81,44.70 L610.85,44.20 L610.88,43.70 L610.92,43.20 L610.95,42.70 L610.98,42.20 L611.01,41.70 L611.04,41.20 L611.07,40.70 L611.09,40.20 L611.11,39.70 L611.13,39.20 L611.16,38.70 L611.18,38.20 L611.20,37.70 L611.22,37.20 L611.24,36.70 L611.26,36.20 L611.28,35.70 L611.30,35.20 L611.32,34.70 L611.34,34.20 L611.36,33.70 L611.38,33.20 L611.39,32.70 L611.41,32.20 L611.43,31.70 L611.44,31.20 L611.46,30.70 L611.47,30.20 L611.49,29.70 L611.50,29.20 L611.52,28.70 L611.53,28.20 L611.54,27.70 L611.55,27.20 L611.56,26.70 L611.57,26.20 L611.58,25.70 L611.59,25.20 L611.59,24.70 L611.60,24.20Z" fill="#fff" stroke="#2b2b2b" stroke-width="1.2" stroke-linejoin="round"/>
<line x1="122.7" x2="122.7" y1="144.4" y2="161.4" stroke="#222" stroke-width="1.2"/>
<line x1="122.7" x2="122.7" y1="173.4" y2="193.5" stroke="#222" stroke-width="1.2"/>
<rect x="116.65" y="161.4" width="12.1" height="12.00" fill="#fff" stroke="#222" stroke-width="1.2"/>
<line x1="116.65" x2="128.75" y1="168.0" y2="168.0" stroke="#111" stroke-width="2.2"/>
<line x1="244.85" x2="244.85" y1="125.8" y2="146.3" stroke="#222" stroke-width="1.2"/>
<line x1="244.85" x2="244.85" y1="160.1" y2="181" stroke="#222" stroke-width="1.2"/>
<rect x="238.79999999999998" y="146.3" width="12.1" height="13.80" fill="#fff" stroke="#222" stroke-width="1.2"/>
<line x1="238.79999999999998" x2="250.9" y1="153.0" y2="153.0" stroke="#111" stroke-width="2.2"/>
<line x1="367.1" x2="367.1" y1="101.8" y2="129.3" stroke="#222" stroke-width="1.2"/>
<line x1="367.1" x2="367.1" y1="148.1" y2="172.5" stroke="#222" stroke-width="1.2"/>
<rect x="361.05" y="129.3" width="12.1" height="18.80" fill="#fff" stroke="#222" stroke-width="1.2"/>
<line x1="361.05" x2="373.15000000000003" y1="138.7" y2="138.7" stroke="#111" stroke-width="2.2"/>
<line x1="489.35" x2="489.35" y1="80.4" y2="110.8" stroke="#222" stroke-width="1.2"/>
<line x1="489.35" x2="489.35" y1="133.2" y2="163" stroke="#222" stroke-width="1.2"/>
<rect x="483.3" y="110.8" width="12.1" height="22.40" fill="#fff" stroke="#222" stroke-width="1.2"/>
<line x1="483.3" x2="495.40000000000003" y1="122.6" y2="122.6" stroke="#111" stroke-width="2.2"/>
<line x1="611.6" x2="611.6" y1="59.8" y2="94.5" stroke="#222" stroke-width="1.2"/>
<line x1="611.6" x2="611.6" y1="118.4" y2="151" stroke="#222" stroke-width="1.2"/>
<rect x="605.5500000000001" y="94.5" width="12.1" height="23.90" fill="#fff" stroke="#222" stroke-width="1.2"/>
<line x1="605.5500000000001" x2="617.65" y1="106.9" y2="106.9" stroke="#111" stroke-width="2.2"/>
<line x1="49.5" x2="49.5" y1="0" y2="391.67" stroke="#2a2a2a" stroke-width="1.75"/>
<line x1="48.63" x2="685" y1="390.8" y2="390.8" stroke="#2a2a2a" stroke-width="1.75"/>
<line x1="45.5" x2="49.5" y1="373.20" y2="373.20" stroke="#333" stroke-width="1.5"/>
<line x1="45.5" x2="49.5" y1="325.80" y2="325.80" stroke="#333" stroke-width="1.5"/>
<line x1="45.5" x2="49.5" y1="278.40" y2="278.40" stroke="#333" stroke-width="1.5"/>
<line x1="45.5" x2="49.5" y1="231.00" y2="231.00" stroke="#333" stroke-width="1.5"/>
<line x1="45.5" x2="49.5" y1="183.60" y2="183.60" stroke="#333" stroke-width="1.5"/>
<line x1="45.5" x2="49.5" y1="136.20" y2="136.20" stroke="#333" stroke-width="1.5"/>
<line x1="45.5" x2="49.5" y1="88.80" y2="88.80" stroke="#333" stroke-width="1.5"/>
<line x1="45.5" x2="49.5" y1="41.40" y2="41.40" stroke="#333" stroke-width="1.5"/>
<line x1="122.7" x2="122.7" y1="390.8" y2="394.5" stroke="#333" stroke-width="1.5"/>
<line x1="244.85" x2="244.85" y1="390.8" y2="394.5" stroke="#333" stroke-width="1.5"/>
<line x1="367.1" x2="367.1" y1="390.8" y2="394.5" stroke="#333" stroke-width="1.5"/>
<line x1="489.35" x2="489.35" y1="390.8" y2="394.5" stroke="#333" stroke-width="1.5"/>
<line x1="611.6" x2="611.6" y1="390.8" y2="394.5" stroke="#333" stroke-width="1.5"/>
<text x="42.3" y="377.65" text-anchor="end" font-size="12.5" fill="#3a3a3a" stroke="#3a3a3a" stroke-width="0.2">0</text>
<text x="42.3" y="330.25" text-anchor="end" font-size="12.5" fill="#3a3a3a" stroke="#3a3a3a" stroke-width="0.2">100</text>
<text x="42.3" y="282.85" text-anchor="end" font-size="12.5" fill="#3a3a3a" stroke="#3a3a3a" stroke-width="0.2">200</text>
<text x="42.3" y="235.45" text-anchor="end" font-size="12.5" fill="#3a3a3a" stroke="#3a3a3a" stroke-width="0.2">300</text>
<text x="42.3" y="188.05" text-anchor="end" font-size="12.5" fill="#3a3a3a" stroke="#3a3a3a" stroke-width="0.2">400</text>
<text x="42.3" y="140.65" text-anchor="end" font-size="12.5" fill="#3a3a3a" stroke="#3a3a3a" stroke-width="0.2">500</text>
<text x="42.3" y="93.25" text-anchor="end" font-size="12.5" fill="#3a3a3a" stroke="#3a3a3a" stroke-width="0.2">600</text>
<text x="42.3" y="45.85" text-anchor="end" font-size="12.5" fill="#3a3a3a" stroke="#3a3a3a" stroke-width="0.2">700</text>
<text x="123.0" y="406.9" text-anchor="middle" font-size="12.5" fill="#3a3a3a" stroke="#3a3a3a" stroke-width="0.2">1925</text>
<text x="245.15" y="406.9" text-anchor="middle" font-size="12.5" fill="#3a3a3a" stroke="#3a3a3a" stroke-width="0.2">2425</text>
<text x="367.40000000000003" y="406.9" text-anchor="middle" font-size="12.5" fill="#3a3a3a" stroke="#3a3a3a" stroke-width="0.2">2925</text>
<text x="489.65000000000003" y="406.9" text-anchor="middle" font-size="12.5" fill="#3a3a3a" stroke="#3a3a3a" stroke-width="0.2">3425</text>
<text x="611.9" y="406.9" text-anchor="middle" font-size="12.5" fill="#3a3a3a" stroke="#3a3a3a" stroke-width="0.2">3925</text>
<text x="367.1" y="428" text-anchor="middle" font-size="15.4" font-weight="bold" fill="#000">Cost level of WGS (in euro)</text>
<text transform="translate(12.0,195.2) rotate(-90)" text-anchor="middle" font-size="15.4" font-weight="bold" fill="#000">Cost per patient (mean in euro)</text>
</svg>
</body></html>
